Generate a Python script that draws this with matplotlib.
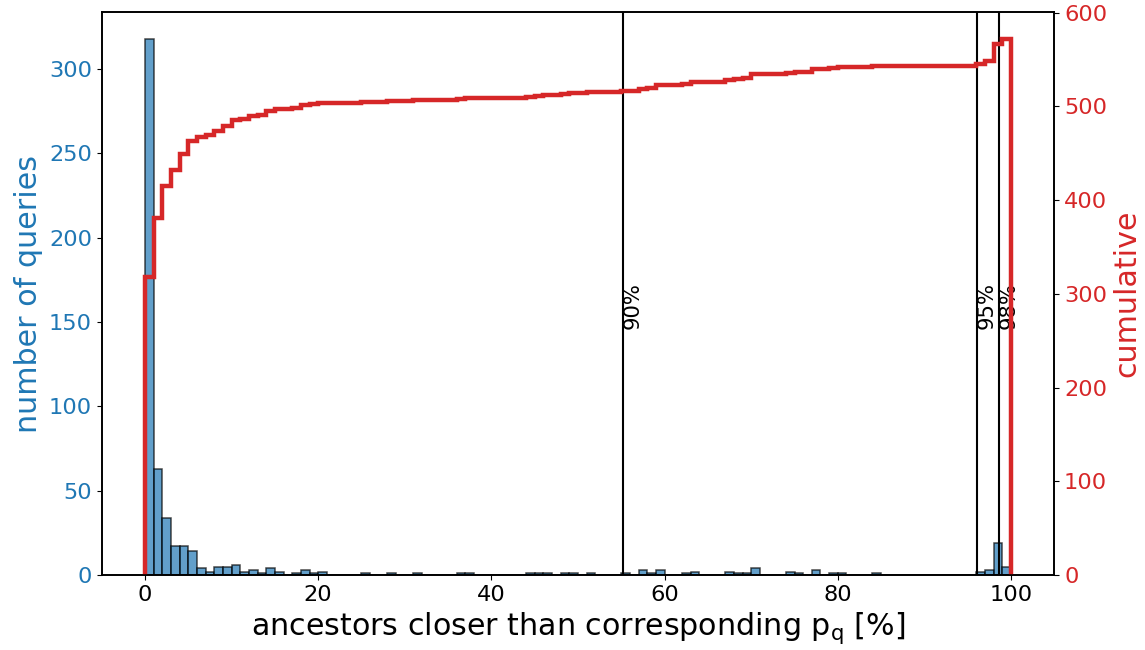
import numpy as np
import matplotlib.pyplot as plt

# counts per 1%-wide bin, 0..100
counts = [
    318, 63, 34, 17, 17, 14, 4, 2, 5, 5,
    6, 2, 3, 1, 4, 2, 0, 1, 3, 1,
    2, 0, 0, 0, 0, 1, 0, 0, 1, 0,
    0, 1, 0, 0, 0, 0, 1, 1, 0, 0,
    0, 0, 0, 0, 1, 1, 1, 0, 1, 1,
    0, 1, 0, 0, 0, 1, 0, 3, 1, 3,
    0, 0, 1, 2, 0, 0, 0, 2, 1, 1,
    4, 0, 0, 0, 2, 1, 0, 3, 0, 1,
    1, 0, 0, 0, 1, 0, 0, 0, 0, 0,
    0, 0, 0, 0, 0, 0, 2, 3, 19, 5,
]
edges = np.arange(0, 101)
percentile_labels = ['90%', '95%', '98%']
percentile_values = [55.2, 96.05, 98.6]

centers = edges[:-1] + 0.5

fig, ax = plt.subplots(figsize=(11.45, 6.5), dpi=100)
fig.subplots_adjust(left=0.0888, right=0.9208, top=0.9815, bottom=0.1154)

ax.hist(centers, bins=edges, weights=counts, color='tab:blue', alpha=0.7,
        edgecolor='black', linewidth=1.1)
ax.set_xlabel('ancestors closer than corresponding $\\mathrm{p_q}$ [%]', fontsize=21.7)
ax.set_ylabel('number of queries', color='tab:blue', fontsize=21.7)
ax.tick_params(axis='y', labelcolor='tab:blue', labelsize=16.2)
ax.tick_params(axis='x', labelsize=16.2)

for lab, val in zip(percentile_labels, percentile_values):
    ax.axvline(val, color='black', lw=1.5)
    ax.text(val, 148, lab, rotation=90, fontsize=15.2)

ax2 = ax.twinx()
ax2.hist(centers, bins=edges, weights=counts, cumulative=True, histtype='step',
         color='tab:red', linewidth=3.2)
ax2.set_ylabel('cumulative', color='tab:red', fontsize=21.7)
ax2.tick_params(axis='y', labelcolor='tab:red', labelsize=16.2)

for a in (ax, ax2):
    for s in a.spines.values():
        s.set_linewidth(1.2)

fig.savefig('out.png')
